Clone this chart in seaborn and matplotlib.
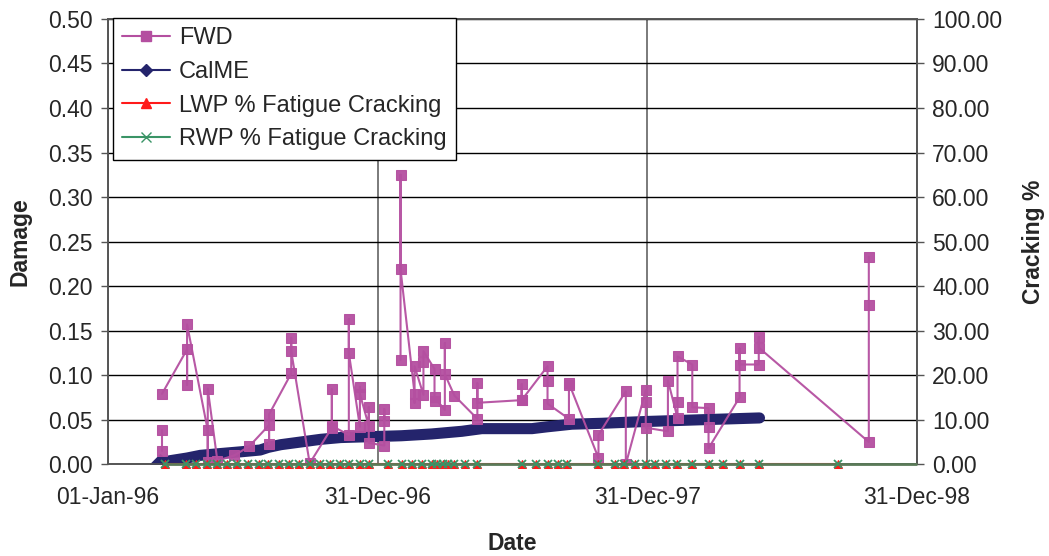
"""
FWD vs CalME damage with fatigue cracking, dual axis
"""

import numpy as np
import pandas as pd
import seaborn as sns
import matplotlib.pyplot as plt
import matplotlib.dates as mdates
import matplotlib.ticker as mticker
from matplotlib.lines import Line2D

# FWD damage, in drawing order (None breaks the line)
fwd_dates = [
    "1996-03-14", "1996-03-14", "1996-03-14", "1996-03-14",
    "1996-04-17", "1996-04-17", "1996-04-17",
    "1996-05-15", "1996-05-15", "1996-05-15",
    "1996-05-28", "1996-06-20", "1996-07-10",
    "1996-08-06", "1996-08-06", "1996-08-06",
    "1996-09-05", "1996-09-05", "1996-09-05",
    "1996-09-30",
    "1996-10-30", "1996-10-30", "1996-10-30",
    "1996-11-22", "1996-11-22", "1996-11-22",
    "1996-12-07", "1996-12-07", "1996-12-07",
    "1996-12-19", "1996-12-19", "1996-12-19",
    "1997-01-09", "1997-01-09", "1997-01-09", "1997-01-09",
    "1997-01-31", "1997-01-31", "1997-01-31",
    "1997-02-19", "1997-02-19", "1997-02-19",
    "1997-03-03", "1997-03-03", "1997-03-03",
    "1997-03-18", "1997-03-18", "1997-03-18",
    "1997-04-01", "1997-04-01", "1997-04-01",
    "1997-04-14",
    "1997-05-15", "1997-05-15", "1997-05-15",
    "1997-07-14", "1997-07-14", "1997-07-14",
    "1997-08-18", "1997-08-18", "1997-08-18",
    "1997-09-16", "1997-09-16", "1997-09-16",
    "1997-10-26", "1997-10-26",
    "1997-12-02", "1997-12-02",
    "1997-12-29", "1997-12-29", "1997-12-29",
    "1998-01-28", "1998-01-28",
    "1998-02-10", "1998-02-10", "1998-02-10",
    "1998-03-02", "1998-03-02",
    "1998-03-24", "1998-03-24", "1998-03-24",
    "1998-05-05", "1998-05-05", "1998-05-05",
    "1998-05-31", "1998-05-31", "1998-05-31",
    "1998-10-27", "1998-10-27", "1998-10-27",
]
fwd_damage = [
    0.015, 0.039, None, 0.079,
    0.129, 0.089, 0.157,
    0.038, 0.003, 0.085,
    0.004, 0.010, 0.020,
    0.044, 0.023, 0.056,
    0.102, 0.142, 0.127,
    0.001,
    0.041, 0.084, 0.043,
    0.033, 0.163, 0.125,
    0.042, 0.087, 0.079,
    0.043, 0.064, 0.024,
    0.021, 0.062, 0.049, None,
    0.117, 0.325, 0.219,
    0.079, 0.069, 0.110,
    0.078, 0.115, 0.127,
    0.107, 0.071, 0.075,
    0.061, 0.136, 0.101,
    0.077,
    0.051, 0.091, 0.069,
    0.072, 0.090, 0.072,
    0.110, 0.094, 0.068,
    0.051, 0.089, 0.091,
    0.007, 0.033,
    0.082, 0.000,
    0.083, 0.070, 0.041,
    0.037, 0.094,
    0.052, 0.070, 0.121,
    0.112, 0.064,
    0.063, 0.042, 0.018,
    0.075, 0.130, 0.112,
    0.112, 0.143, 0.131,
    0.025, 0.179, 0.233,
]

# CalME predicted damage
calme_dates = [
    "1996-03-11", "1996-03-25", "1996-04-17", "1996-05-05", "1996-06-01",
    "1996-06-29", "1996-07-25", "1996-08-05", "1996-08-22", "1996-09-18",
    "1996-10-15", "1996-11-11", "1996-12-22", "1997-02-01", "1997-03-14",
    "1997-04-24", "1997-05-21", "1997-07-28", "1997-08-17", "1997-09-20",
    "1997-10-31", "1997-12-29", "1998-03-15", "1998-06-01",
]
calme_damage = [
    0.000, 0.004, 0.007, 0.010, 0.012,
    0.014, 0.016, 0.019, 0.022, 0.025,
    0.028, 0.030, 0.031, 0.032, 0.034,
    0.037, 0.040, 0.040, 0.042, 0.045,
    0.046, 0.048, 0.050, 0.052,
]

# survey dates for % fatigue cracking
crack_dates = [
    "1996-03-18", "1996-04-15", "1996-04-29", "1996-05-14", "1996-05-27",
    "1996-06-10", "1996-06-23", "1996-07-08", "1996-07-23", "1996-08-04",
    "1996-08-19", "1996-09-02", "1996-09-15", "1996-09-30", "1996-10-14",
    "1996-10-27", "1996-11-10", "1996-11-22", "1996-12-07", "1996-12-19",
    "1997-01-14", "1997-02-02", "1997-02-16", "1997-03-01", "1997-03-14",
    "1997-03-22", "1997-03-29", "1997-04-05", "1997-04-14", "1997-04-28",
    "1997-05-14", "1997-07-14", "1997-08-03", "1997-08-18", "1997-09-01",
    "1997-09-14", "1997-10-25", "1997-11-17", "1997-11-30", "1997-12-14",
    "1997-12-29", "1998-01-11", "1998-01-26", "1998-02-09", "1998-03-02",
    "1998-03-24", "1998-04-13", "1998-05-05", "1998-05-31", "1998-09-15",
]
lwp_cracking = [
    0, 0, 0, 0, 0, 0, 0, 0, 0, 0,
    0, 0, 0, 0, 0, 0, 0, 0, 0, 0,
    0, 0, 0, 0, 0, 0, 0, 0, 0, 0,
    0, 0, 0, 0, 0, 0, 0, 0, 0, 0,
    0, 0, 0, 0, 0, 0, 0, 0, 0, 0,
]
rwp_cracking = [
    0, 0, 0, 0, 0, 0, 0, 0, 0, 0,
    0, 0, 0, 0, 0, 0, 0, 0, 0, 0,
    0, 0, 0, 0, 0, 0, 0, 0, 0, 0,
    0, 0, 0, 0, 0, 0, 0, 0, 0, 0,
    0, 0, 0, 0, 0, 0, 0, 0, 0, 0,
]

fwd_color = "#b44fa0"
calme_color = "#24246c"
lwp_color = "#ff1a1a"
rwp_color = "#3a9466"
axis_green = "#5a7a58"

sns.set_style("white")
plt.rcParams["font.family"] = ["Liberation Sans", "DejaVu Sans"]

fwd = pd.DataFrame({"date": pd.to_datetime(fwd_dates),
                    "damage": [np.nan if v is None else v for v in fwd_damage]})
fwd["seg"] = fwd["damage"].isna().cumsum()
fwd = fwd.dropna()

calme = pd.DataFrame({"date": pd.to_datetime(calme_dates), "damage": calme_damage})
crack = pd.DataFrame({"date": pd.to_datetime(crack_dates),
                      "lwp": lwp_cracking, "rwp": rwp_cracking})

fig, ax = plt.subplots(figsize=(10.49, 5.56), dpi=100)
fig.subplots_adjust(left=0.103, right=0.874, top=0.966, bottom=0.165)
ax2 = ax.twinx()
ax2.set_zorder(ax.get_zorder() + 1)
ax2.patch.set_visible(False)

# grid
ax.set_axisbelow(True)
ax.yaxis.grid(True, color="black", lw=1.0)
ax.xaxis.grid(True, color="#707070", lw=1.3)

sns.lineplot(data=calme, x="date", y="damage", ax=ax, color=calme_color,
             lw=8, solid_capstyle="round", marker="D", markersize=10,
             markevery=[0], markeredgecolor=calme_color, zorder=3)
sns.lineplot(data=fwd, x="date", y="damage", units="seg", estimator=None,
             sort=False, ax=ax, color=fwd_color, lw=1.5, marker="s",
             markersize=7.5, markeredgecolor=fwd_color, alpha=0.95, zorder=4)

start, end = pd.Timestamp("1996-01-01"), pd.Timestamp("1998-12-31")

sns.lineplot(data=crack, x="date", y="lwp", ax=ax2, color=lwp_color, lw=1.5,
             marker="^", markersize=5.5, markeredgecolor=lwp_color,
             clip_on=False, zorder=5)
sns.lineplot(data=crack, x="date", y="rwp", ax=ax2, color=axis_green, lw=2,
             marker="x", markersize=5.5, markeredgewidth=1.3,
             markeredgecolor=rwp_color, clip_on=False, zorder=6)
ax2.hlines(0, crack["date"].iloc[-1], end, color=axis_green, lw=2,
           clip_on=False, zorder=6)

ax.set_xlim(start, end)
ax.set_xticks(pd.to_datetime(["1996-01-01", "1996-12-31", "1997-12-31", "1998-12-31"]))
ax.xaxis.set_major_formatter(mdates.DateFormatter("%d-%b-%y"))

ax.set_ylim(0, 0.5)
ax.set_yticks(np.arange(0, 0.501, 0.05))
ax.yaxis.set_major_formatter(mticker.FormatStrFormatter("%.2f"))
ax2.set_ylim(0, 100)
ax2.set_yticks(np.arange(0, 100.1, 10))
ax2.yaxis.set_major_formatter(mticker.FormatStrFormatter("%.2f"))

fs = 16.5
ax.set_xlabel("Date", fontsize=fs, fontweight="bold", labelpad=16)
ax.set_ylabel("Damage", fontsize=fs, fontweight="bold", labelpad=12)
ax2.set_ylabel("Cracking %", fontsize=fs, fontweight="bold", labelpad=14)

for a in (ax, ax2):
    a.tick_params(labelsize=fs, length=5, width=1, color="#555555", direction="out")
    for s in a.spines.values():
        s.set_color("#555555")
        s.set_linewidth(1.2)
ax.tick_params(axis="x", pad=11)
ax.tick_params(axis="y", pad=6)
ax2.tick_params(axis="y", pad=6)

handles = [
    Line2D([], [], color=fwd_color, lw=1.5, marker="s", markersize=7),
    Line2D([], [], color=calme_color, lw=1.5, marker="D", markersize=6),
    Line2D([], [], color=lwp_color, lw=1.5, marker="^", markersize=7),
    Line2D([], [], color=rwp_color, lw=1.5, marker="x", markersize=7),
]
labels = ["FWD", "CalME", "LWP % Fatigue Cracking", "RWP % Fatigue Cracking"]
leg = ax2.legend(handles, labels, loc="upper left", bbox_to_anchor=(0.006, 1.003),
                 fontsize=17, frameon=True, fancybox=False, edgecolor="black",
                 framealpha=1, borderaxespad=0, handlelength=2.0,
                 handletextpad=0.4, labelspacing=0.5, borderpad=0.4)
leg.get_frame().set_linewidth(1.0)

plt.savefig("out.png", dpi=100)
